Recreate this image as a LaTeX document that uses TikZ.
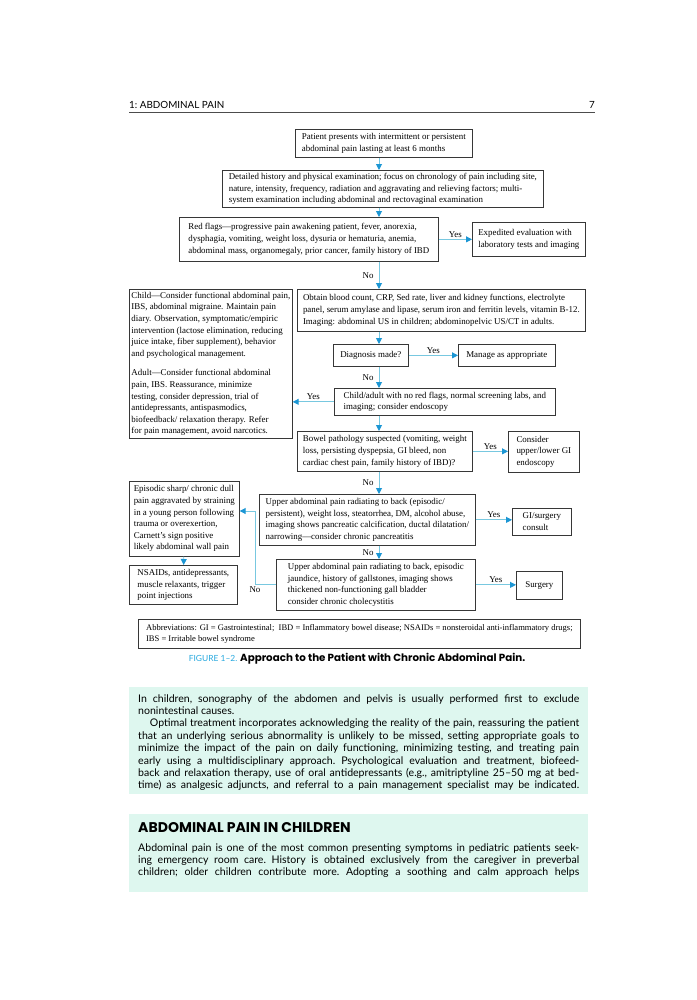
\documentclass[tikz,border=0pt]{standalone}
\usepackage{fontspec}
\setmainfont{Liberation Serif}
\newfontfamily\bookfont{Lato}
\newfontfamily\headfont{Poppins}
\usetikzlibrary{arrows.meta}
\definecolor{boxline}{RGB}{55,55,55}
\definecolor{flowline}{RGB}{120,200,224}
\definecolor{flowtip}{RGB}{28,150,212}
\definecolor{mint}{RGB}{222,247,239}
\definecolor{figcyan}{RGB}{38,168,222}
\newcommand{\flowtext}{\fontsize{7.6}{9.9}\selectfont}
\newcommand{\abbrevtext}{\fontsize{7.3}{9.6}\selectfont}
\newcommand{\pagetext}{\bookfont\fontsize{9}{10.6}\selectfont\frenchspacing}
\tikzstyle{flowbox} = [
    rectangle,
    draw=boxline,
    line width=0.6pt,
    anchor=north west,
    align=left,
    inner xsep=0.6mm,
    inner ysep=0.8mm,
    font=\flowtext
]
\tikzstyle{answer} = [font=\flowtext, text=black, inner sep=1.2pt]
\tikzstyle{arrow} = [flowline, line width=0.8pt, -{Triangle[length=1.8mm, width=1.8mm, color=flowtip]}]

\begin{document}
\begin{tikzpicture}[x=0.3mm, y=-0.3mm]
\useasboundingbox (0,0) rectangle (697,1000);

\node (runhead) [anchor=west, inner sep=0, font=\bookfont\fontsize{8.4}{10}\selectfont] at (129,104.5) {1:\ ABDOMINAL PAIN};
\node (folio) [anchor=east, inner sep=0, font=\bookfont\fontsize{8.4}{10}\selectfont] at (595,104.5) {7};
\draw [black!70, line width=0.5pt] (129,111.8) -- (595,111.8);

\coordinate (trunk) at (379,0);

\node (patient) [flowbox, minimum width=53.1mm, minimum height=8.4mm] at (295,129)
{Patient presents with intermittent or persistent\\abdominal pain lasting at least 6 months};

\node (history) [flowbox, minimum width=96.3mm, minimum height=11.1mm] at (222,170)
{Detailed history and physical examination; focus on chronology of pain including site,\\nature, intensity, frequency, radiation and aggravating and relieving factors; multi-\\system examination including abdominal and rectovaginal examination};

\node (redflags) [flowbox, minimum width=77.7mm, minimum height=13.2mm] at (179,217)
{Red flags—progressive pain awakening patient, fever, anorexia,\\dysphagia, vomiting, weight loss, dysuria or hematuria, anemia,\\abdominal mass, organomegaly, prior cancer, family history of IBD};

\node (expedited) [flowbox, minimum width=33.9mm, minimum height=10.2mm] at (472,222)
{Expedited evaluation with\\laboratory tests and imaging};

\node (screening) [flowbox, minimum width=86.4mm, minimum height=12.6mm] at (297,289)
{Obtain blood count, CRP, Sed rate, liver and kidney functions, electrolyte\\panel, serum amylase and lipase, serum iron and ferritin levels, vitamin B-12.\\Imaging: abdominal US in children; abdominopelvic US/CT in adults.};

\node (functional) [flowbox, inner xsep=0.3mm, minimum width=48.9mm, minimum height=44.7mm] at (129,289)
{Child—Consider functional abdominal pain,\\IBS, abdominal migraine. Maintain pain\\diary. Observation, symptomatic/empiric\\intervention (lactose elimination, reducing\\juice intake, fiber supplement), behavior\\and psychological management.\\[2.4mm]Adult—Consider functional abdominal\\pain, IBS. Reassurance, minimize\\testing, consider depression, trial of\\antidepressants, antispasmodics,\\biofeedback/ relaxation therapy. Refer\\for pain management, avoid narcotics.};

\node (diagnosis) [flowbox, align=center, minimum width=22.5mm, minimum height=6.6mm] at (333,344)
{Diagnosis made?};

\node (manage) [flowbox, align=center, minimum width=29.1mm, minimum height=6.6mm] at (458,344)
{Manage as appropriate};

\node (noflags) [flowbox, minimum width=66.3mm, minimum height=8.1mm] at (334,388)
{Child/adult with no red flags, normal screening labs, and\\imaging; consider endoscopy};

\node (bowel) [flowbox, minimum width=52.5mm, minimum height=12mm] at (297,431)
{Bowel pathology suspected (vomiting, weight\\loss, persisting dyspepsia, GI bleed, non\\cardiac chest pain, family history of IBD)?};

\node (endoscopy) [flowbox, minimum width=21.3mm, minimum height=12.3mm] at (508,431)
{Consider\\upper/lower GI\\endoscopy};

\node (pancreas) [flowbox, minimum width=64.8mm, minimum height=15.3mm] at (259,494)
{Upper abdominal pain radiating to back (episodic/\\persistent), weight loss, steatorrhea, DM, alcohol abuse,\\imaging shows pancreatic calcification, ductal dilatation/\\narrowing—consider chronic pancreatitis};

\node (consult) [flowbox, minimum width=17.7mm, minimum height=8.1mm] at (512,508)
{GI/surgery\\consult};

\node (wallpain) [flowbox, minimum width=33mm, minimum height=22.5mm] at (129,481)
{Episodic sharp/ chronic dull\\pain aggravated by straining\\in a young person following\\trauma or overexertion,\\Carnett's sign positive\\likely abdominal wall pain};

\node (injections) [flowbox, minimum width=32.4mm, minimum height=11.7mm] at (129,565)
{NSAIDs, antidepressants,\\muscle relaxants, trigger\\point injections};

\node (gallbladder) [flowbox, minimum width=59.7mm, minimum height=15.3mm] at (276,559)
{Upper abdominal pain radiating to back, episodic\\jaundice, history of gallstones, imaging shows\\thickened non-functioning gall bladder\\consider chronic cholecystitis};

\node (surgery) [flowbox, align=center, minimum width=13.8mm, minimum height=8.4mm] at (516,571)
{Surgery};

\node (abbrev) [flowbox, font=\abbrevtext, inner xsep=0.9mm, minimum width=132.6mm, minimum height=8.7mm] at (138,619)
{Abbreviations: GI = Gastrointestinal;\ \ IBD = Inflammatory bowel disease; NSAIDs = nonsteroidal anti-inflammatory drugs;\\IBS = Irritable bowel syndrome};

\draw [arrow] (patient.south -| trunk) -- (history.north -| trunk);
\draw [arrow] (history.south -| trunk) -- (redflags.north -| trunk);
\draw [arrow] (redflags.east) -- node[answer, above] {Yes} (redflags.east -| expedited.west);
\draw [arrow] (redflags.south -| trunk) -- node[answer, left=3pt] {No} (screening.north -| trunk);
\draw [arrow] (screening.south -| trunk) -- (diagnosis.north -| trunk);
\draw [arrow] (diagnosis.east) -- node[answer, above] {Yes} (diagnosis.east -| manage.west);
\draw [arrow] (diagnosis.south -| trunk) -- node[answer, left=3pt] {No} (noflags.north -| trunk);
\draw [arrow] (noflags.west) -- node[answer, above] {Yes} (noflags.west -| functional.east);
\draw [arrow] (noflags.south -| trunk) -- (bowel.north -| trunk);
\draw [arrow] (bowel.east) -- node[answer, above] {Yes} (bowel.east -| endoscopy.west);
\draw [arrow] (bowel.south -| trunk) -- node[answer, left=3pt] {No} (pancreas.north -| trunk);
\draw [arrow] (pancreas.east) -- node[answer, above] {Yes} (pancreas.east -| consult.west);
\draw [arrow] (pancreas.south -| trunk) -- node[answer, left=3pt] {No} (gallbladder.north -| trunk);
\draw [arrow] (gallbladder.east) -- node[answer, above] {Yes} (gallbladder.east -| surgery.west);
\draw [arrow] (gallbladder.west |- 0,584) -- ++(-21,0) node[answer, below=1pt] {No} |- (wallpain.east |- 0,511);
\draw [arrow] (wallpain) -- (injections);

\node (caption) [font=\headfont\bfseries\fontsize{8.8}{10}\selectfont] at (357,659)
{\textcolor{figcyan}{\bookfont\mdseries\fontsize{7.2}{8}\selectfont FIGURE 1–2.} Approach to the Patient with Chronic Abdominal Pain.};

\fill [mint] (129,687) rectangle (588,794);
\node (treatment) [anchor=north west, inner sep=0, text width=132.3mm, align=justify, font=\pagetext] at (138,694)
{\hyphenpenalty=10000\tolerance=9999
In children, sonography of the abdomen and pelvis is usually performed first to exclude\linebreak
nonintestinal causes.\par
\hspace*{3.5mm}Optimal treatment incorporates acknowledging the reality of the pain, reassuring the patient\linebreak
that an underlying serious abnormality is unlikely to be missed, setting appropriate goals to\linebreak
minimize the impact of the pain on daily functioning, minimizing testing, and treating pain\linebreak
early using a multidisciplinary approach. Psychological evaluation and treatment, biofeed-\linebreak
back and relaxation therapy, use of oral antidepressants (e.g., amitriptyline 25–50 mg at bed-\linebreak
time) as analgesic adjuncts, and referral to a pain management specialist may be indicated.\parfillskip=0pt\par};

\fill [mint] (129,814) rectangle (588,892);
\node (section) [anchor=west, inner sep=0, font=\headfont\bfseries\fontsize{12}{14}\selectfont] at (138,828)
{ABDOMINAL PAIN IN CHILDREN};
\node (children) [anchor=north west, inner sep=0, text width=132.3mm, align=justify, font=\pagetext] at (138,843)
{\hyphenpenalty=10000\tolerance=9999
Abdominal pain is one of the most common presenting symptoms in pediatric patients seek-\linebreak
ing emergency room care. History is obtained exclusively from the caregiver in preverbal\linebreak
children; older children contribute more. Adopting a soothing and calm approach helps\parfillskip=0pt\par};

\end{tikzpicture}
\end{document}
